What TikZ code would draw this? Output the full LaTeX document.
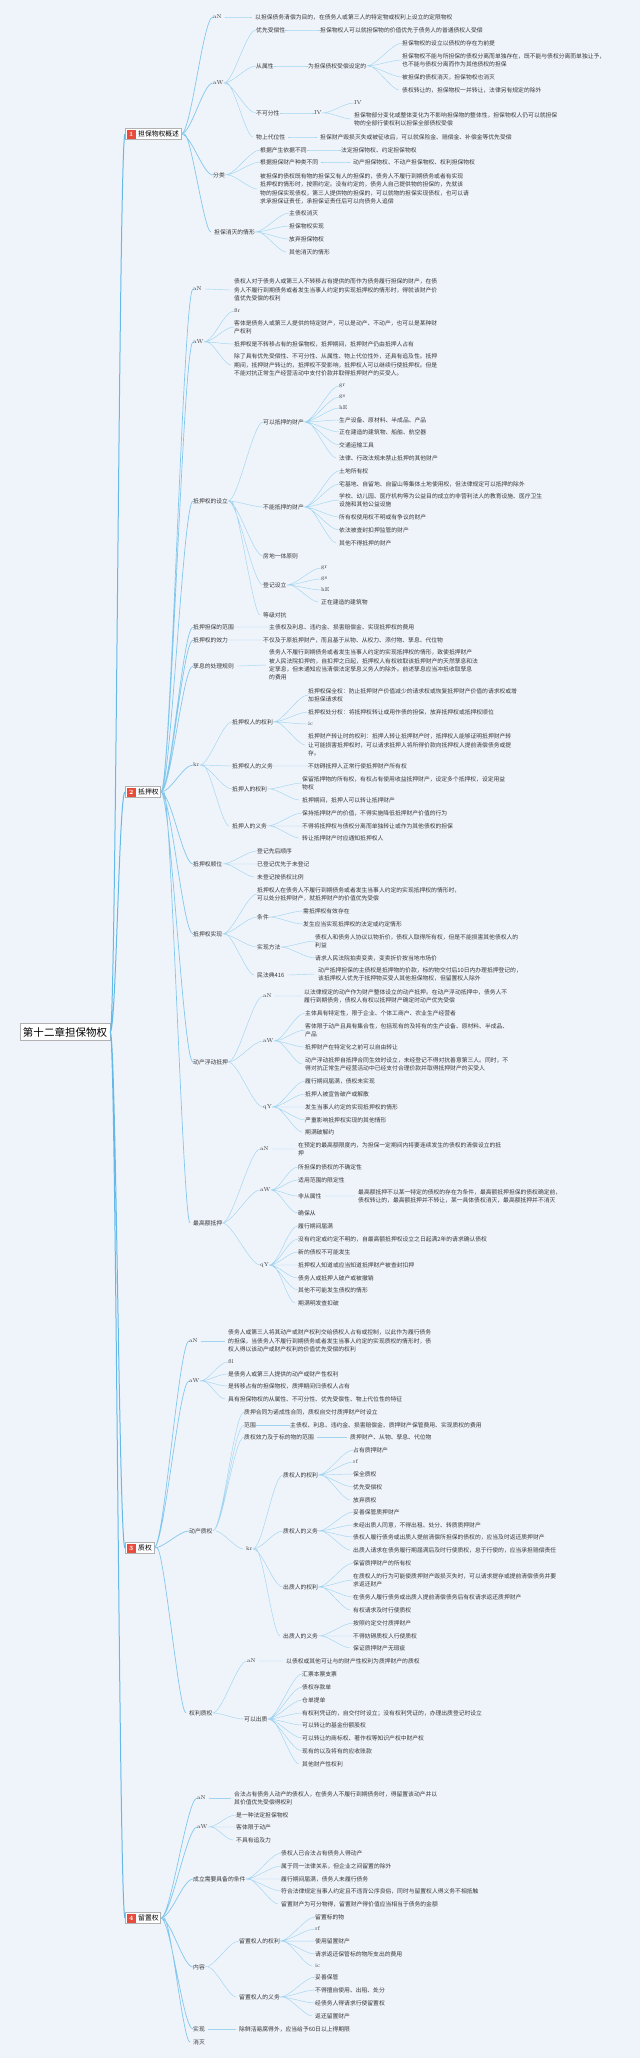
\documentclass[tikz,border=0pt]{standalone}
\usepackage{fontspec}
\newfontfamily\cjk{Noto Sans CJK SC}
\usetikzlibrary{positioning}

\definecolor{bgblue}{RGB}{239,244,251}
\definecolor{linkblue}{RGB}{160,212,240}
\definecolor{trunkblue}{RGB}{100,185,232}
\definecolor{badgered}{RGB}{232,76,61}
\definecolor{txtgray}{RGB}{55,55,55}

\begin{document}
\begin{tikzpicture}[
    x=1pt, y=-1pt,
    leaf/.style={anchor=west, inner sep=0pt, align=left, text=txtgray, font=\cjk\fontsize{5.8}{8.3}\selectfont},
    tok/.style={anchor=west, inner sep=0pt, text=txtgray, font=\fontsize{5.6}{6}\selectfont},
    secbox/.style={anchor=west, draw=gray!60, fill=white, inner xsep=2pt, inner ysep=2.5pt, text=black, font=\cjk\fontsize{6.8}{8}\selectfont},
    badge/.style={anchor=west, fill=badgered, text=white, inner sep=0pt, minimum size=9pt, font=\fontsize{6.5}{7}\selectfont\bfseries},
    rootbox/.style={draw=gray!60, fill=white, inner xsep=3pt, inner ysep=3.5pt, text=black, font=\cjk\fontsize{10.5}{12}\selectfont},
    link/.style={draw=linkblue, line width=0.45pt, out=0, in=180, distance=10pt, shorten <=3pt, shorten >=3pt},
    branch/.style={link, draw=trunkblue!80, line width=0.7pt},
    trunk/.style={draw=trunkblue, line width=1pt, out=0, in=180, distance=6pt},
]

% ====== Canvas ======
\fill[bgblue] (0,0) rectangle (640,2058);
\useasboundingbox (0,0) rectangle (640,2058);

% ====== Root and chapters ======
\node[rootbox] (root) at (65,1032) {第十二章担保物权};
\node[secbox] (s1) at (125,134) {\hspace*{11pt}担保物权概述};
\node[badge, right=1.5pt of s1.west] (s1b) {1};
\node[secbox] (s2) at (125,792) {\hspace*{11pt}抵押权};
\node[badge, right=1.5pt of s2.west] (s2b) {2};
\node[secbox] (s3) at (125,1548) {\hspace*{11pt}质权};
\node[badge, right=1.5pt of s3.west] (s3b) {3};
\node[secbox] (s4) at (125,1918) {\hspace*{11pt}留置权};
\node[badge, right=1.5pt of s4.west] (s4b) {4};

\draw[trunk] (root) to (s1) (root) to (s2) (root) to (s3) (root) to (s4);

% ====== 1 担保物权概述 ======
\node[tok] (s1n) at (213,17) {aN};
\node[leaf] (s1nt) at (255,17) {以担保债务清偿为目的，在债务人或第三人的特定物或权利上设立的定限物权};
\node[tok] (s1w) at (213,83) {aW};
\node[leaf] (s1w1) at (256,30) {优先受偿性};
\node[leaf] (s1w1a) at (320,30) {担保物权人可以就担保物的价值优先于债务人的普通债权人受偿};
\node[leaf] (s1w2) at (256,66) {从属性};
\node[leaf] (s1w2a) at (308,66) {为担保债权受偿设定的};
\node[leaf] (s1w2a1) at (402,43) {担保物权的设立以债权的存在为前提};
\node[leaf] (s1w2a2) at (402,60) {担保物权不能与所担保的债权分离而单独存在，既不能与债权分离而单独让予，\\也不能与债权分离而作为其他债权的担保};
\node[leaf] (s1w2a3) at (402,77) {被担保的债权消灭，担保物权也消灭};
\node[leaf] (s1w2a4) at (402,90) {债权转让的，担保物权一并转让，法律另有规定的除外};
\node[leaf] (s1w3) at (256,113) {不可分性};
\node[tok] (s1w3a) at (314,113) {IV};
\node[tok] (s1w3a1) at (354,103) {IV};
\node[leaf] (s1w3a2) at (354,119) {担保物部分变化或整体变化为不影响担保物的整体性，担保物权人仍可以就担保\\物的全部行使权利以担保全部债权受偿};
\node[leaf] (s1w4) at (256,137) {物上代位性};
\node[leaf] (s1w4a) at (320,137) {担保财产毁损灭失或被征收后，可以就保险金、赔偿金、补偿金等优先受偿};
\node[leaf] (s1c) at (213,175) {分类};
\node[leaf] (s1c1) at (260,150) {根据产生依据不同};
\node[leaf] (s1c1a) at (341,150) {法定担保物权、约定担保物权};
\node[leaf] (s1c2) at (260,162) {根据担保财产种类不同};
\node[leaf] (s1c2a) at (353,162) {动产担保物权、不动产担保物权、权利担保物权};
\node[leaf] (s1c3) at (260,189) {被担保的债权既有物的担保又有人的担保的，债务人不履行到期债务或者有实现\\抵押权的情形时，按照约定。没有约定的，债务人自己提供物的担保的，先就该\\物的担保实现债权，第三人提供物的担保的，可以就物的担保实现债权，也可以请\\求承担保证责任，承担保证责任后可以向债务人追偿};
\node[leaf] (s1x) at (214,232) {担保消灭的情形};
\node[leaf] (s1x1) at (289,213) {主债权消灭};
\node[leaf] (s1x2) at (289,226) {担保物权实现};
\node[leaf] (s1x3) at (289,239) {放弃担保物权};
\node[leaf] (s1x4) at (289,252) {其他消灭的情形};

\draw[branch] (s1) to (s1n) (s1) to (s1w) (s1) to (s1c) (s1) to (s1x);
\draw[link] (s1n) to (s1nt);
\draw[link] (s1w) to (s1w1) (s1w) to (s1w2) (s1w) to (s1w3) (s1w) to (s1w4);
\draw[link] (s1w1) to (s1w1a) (s1w2) to (s1w2a) (s1w3) to (s1w3a) (s1w4) to (s1w4a);
\draw[link] (s1w2a) to (s1w2a1) (s1w2a) to (s1w2a2) (s1w2a) to (s1w2a3) (s1w2a) to (s1w2a4);
\draw[link] (s1w3a) to (s1w3a1) (s1w3a) to (s1w3a2);
\draw[link] (s1c) to (s1c1) (s1c) to (s1c2) (s1c) to (s1c3);
\draw[link] (s1c1) to (s1c1a) (s1c2) to (s1c2a);
\draw[link] (s1x) to (s1x1) (s1x) to (s1x2) (s1x) to (s1x3) (s1x) to (s1x4);

% ====== 2 抵押权 ======
\node[tok] (s2n) at (193,289) {aN};
\node[leaf] (s2nt) at (234,290) {债权人对于债务人或第三人不转移占有提供的而作为债务履行担保的财产，在债\\务人不履行到期债务或者发生当事人约定的实现抵押权的情形时，得就该财产价\\值优先受偿的权利};
\node[tok] (s2w) at (193,342) {aW};
\node[tok] (s2w1) at (234,311) {ßr};
\node[leaf] (s2w2) at (234,327) {客体是债务人或第三人提供的特定财产，可以是动产、不动产，也可以是某种财\\产权利};
\node[leaf] (s2w3) at (234,344) {抵押权是不转移占有的担保物权，抵押期间，抵押财产仍由抵押人占有};
\node[leaf] (s2w4) at (234,365) {除了具有优先受偿性、不可分性、从属性、物上代位性外，还具有追及性。抵押\\期间，抵押财产转让的，抵押权不受影响，抵押权人可以继续行使抵押权。但是\\不能对抗正常生产经营活动中支付价款并取得抵押财产的买受人。};

\node[leaf] (s2e) at (193,501) {抵押权的设立};
\node[leaf] (s2e1) at (263,422) {可以抵押的财产};
\node[tok] (s2e1a) at (339,386) {gr};
\node[tok] (s2e1b) at (339,397) {gs};
\node[tok] (s2e1c) at (339,408) {hE};
\node[leaf] (s2e1d) at (339,420) {生产设备、原材料、半成品、产品};
\node[leaf] (s2e1e) at (339,432) {正在建造的建筑物、船舶、航空器};
\node[leaf] (s2e1f) at (339,445) {交通运输工具};
\node[leaf] (s2e1g) at (339,458) {法律、行政法规未禁止抵押的其他财产};
\node[leaf] (s2e2) at (263,507) {不能抵押的财产};
\node[leaf] (s2e2a) at (339,471) {土地所有权};
\node[leaf] (s2e2b) at (339,484) {宅基地、自留地、自留山等集体土地使用权，但法律规定可以抵押的除外};
\node[leaf] (s2e2c) at (339,500) {学校、幼儿园、医疗机构等为公益目的成立的非营利法人的教育设施、医疗卫生\\设施和其他公益设施};
\node[leaf] (s2e2d) at (339,517) {所有权使用权不明或有争议的财产};
\node[leaf] (s2e2e) at (339,530) {依法被查封扣押监管的财产};
\node[leaf] (s2e2f) at (339,543) {其他不得抵押的财产};
\node[leaf] (s2e3) at (263,556) {房地一体原则};
\node[leaf] (s2e4) at (263,585) {登记设立};
\node[tok] (s2e4a) at (321,568) {gr};
\node[tok] (s2e4b) at (321,579) {gs};
\node[tok] (s2e4c) at (321,590) {hE};
\node[leaf] (s2e4d) at (321,602) {正在建造的建筑物};
\node[leaf] (s2e5) at (263,615) {等级对抗};

\node[leaf] (s2r) at (193,627) {抵押担保的范围};
\node[leaf] (s2rt) at (269,627) {主债权及利息、违约金、损害赔偿金、实现抵押权的费用};
\node[leaf] (s2f) at (193,640) {抵押权的效力};
\node[leaf] (s2ft) at (263,640) {不仅及于原抵押财产，而且基于从物、从权力、添付物、孳息、代位物};
\node[leaf] (s2z) at (193,666) {孳息的处理规则};
\node[leaf] (s2zt) at (269,665) {债务人不履行到期债务或者发生当事人约定的实现抵押权的情形，致使抵押财产\\被人民法院扣押的，自扣押之日起，抵押权人有权收取该抵押财产的天然孳息和法\\定孳息，但未通知应当清偿法定孳息义务人的除外。前述孳息应当冲抵收取孳息\\的费用};

\node[tok] (s2k) at (193,765) {kr};
\node[leaf] (s2k1) at (232,722) {抵押权人的权利};
\node[leaf] (s2k1a) at (308,695) {抵押权保全权：防止抵押财产价值减少的请求权或恢复抵押财产价值的请求权或增\\加担保请求权};
\node[leaf] (s2k1b) at (308,712) {抵押权处分权：将抵押权转让或用作债的担保，放弃抵押权或抵押权顺位};
\node[tok] (s2k1c) at (308,724) {ic};
\node[leaf] (s2k1d) at (308,745) {抵押财产转让时的权利：抵押人转让抵押财产时，抵押权人能够证明抵押财产转\\让可能损害抵押权时，可以请求抵押人将所得价款向抵押权人提前清偿债务或提\\存。};
\node[leaf] (s2k2) at (232,766) {抵押权人的义务};
\node[leaf] (s2k2a) at (308,766) {不妨碍抵押人正常行使抵押财产所有权};
\node[leaf] (s2k3) at (232,789) {抵押人的权利};
\node[leaf] (s2k3a) at (302,783) {保留抵押物的所有权，有权占有使用收益抵押财产，设定多个抵押权，设定用益\\物权};
\node[leaf] (s2k3b) at (302,800) {抵押期间，抵押人可以转让抵押财产};
\node[leaf] (s2k4) at (232,826) {抵押人的义务};
\node[leaf] (s2k4a) at (302,813) {保持抵押财产的价值，不得实施降低抵押财产价值的行为};
\node[leaf] (s2k4b) at (302,826) {不得将抵押权与债权分离而单独转让或作为其他债权的担保};
\node[leaf] (s2k4c) at (302,838) {转让抵押财产时应通知抵押权人};

\node[leaf] (s2o) at (193,864) {抵押权顺位};
\node[leaf] (s2oa) at (257,851) {登记先后顺序};
\node[leaf] (s2ob) at (257,864) {已登记优先于未登记};
\node[leaf] (s2oc) at (257,877) {未登记按债权比例};

\node[leaf] (s2s) at (193,934) {抵押权实现};
\node[leaf] (s2s1) at (257,894) {抵押权人在债务人不履行到期债务或者发生当事人约定的实现抵押权的情形时，\\可以处分抵押财产，就抵押财产的价值优先受偿};
\node[leaf] (s2s2) at (257,917) {条件};
\node[leaf] (s2s2a) at (303,911) {需抵押权有效存在};
\node[leaf] (s2s2b) at (303,924) {发生应当实现抵押权的法定或约定情形};
\node[leaf] (s2s3) at (257,947) {实现方法};
\node[leaf] (s2s3a) at (315,941) {债权人和债务人协议以物折价，债权人取得所有权，但是不能损害其他债权人的\\利益};
\node[leaf] (s2s3b) at (315,958) {请求人民法院拍卖变卖，变卖折价按当地市场价};
\node[leaf] (s2s4) at (257,975) {民法典416};
\node[leaf] (s2s4a) at (318,974) {动产抵押担保的主债权是抵押物的价款，标的物交付后10日内办理抵押登记的，\\该抵押权人优先于抵押物买受人其他担保物权，但留置权人除外};

\node[leaf] (s2d) at (193,1062) {动产浮动抵押};
\node[tok] (s2dn) at (263,996) {aN};
\node[leaf] (s2dnt) at (304,996) {以法律规定的动产作为财产整体设立的动产抵押。在动产浮动抵押中，债务人不\\履行到期债务，债权人有权以抵押财产确定时动产优先受偿};
\node[tok] (s2dw) at (263,1041) {aW};
\node[leaf] (s2dwa) at (305,1013) {主体具有特定性，限于企业、个体工商户、农业生产经营者};
\node[leaf] (s2dwb) at (305,1030) {客体限于动产且具有集合性，包括现有的及将有的生产设备、原材料、半成品、\\产品};
\node[leaf] (s2dwc) at (305,1047) {抵押财产在特定化之前可以自由转让};
\node[leaf] (s2dwd) at (305,1064) {动产浮动抵押自抵押合同生效时设立，未经登记不得对抗善意第三人。同时，不\\得对抗正常生产经营活动中已经支付合理价款并取得抵押财产的买受人};
\node[tok] (s2dq) at (263,1107) {qY};
\node[leaf] (s2dqa) at (305,1081) {履行期间届满，债权未实现};
\node[leaf] (s2dqb) at (305,1094) {抵押人被宣告破产或解散};
\node[leaf] (s2dqc) at (305,1107) {发生当事人约定的实现抵押权的情形};
\node[leaf] (s2dqd) at (305,1120) {严重影响抵押权实现的其他情形};
\node[leaf] (s2dqe) at (305,1132) {期满破解约};

\node[leaf] (s2m) at (193,1223) {最高额抵押};
\node[tok] (s2mn) at (260,1149) {aN};
\node[leaf] (s2mnt) at (298,1149) {在预定的最高额限度内，为担保一定期间内将要连续发生的债权的清偿设立的抵\\押};
\node[tok] (s2mw) at (260,1190) {aW};
\node[leaf] (s2mwa) at (298,1167) {所担保的债权的不确定性};
\node[leaf] (s2mwb) at (298,1180) {适用范围的限定性};
\node[leaf] (s2mwc) at (298,1196) {非从属性};
\node[leaf] (s2mwc1) at (358,1196) {最高额抵押不以某一特定的债权的存在为条件，最高额抵押担保的债权确定前，\\债权转让的，最高额抵押并不转让，某一具体债权消灭，最高额抵押并不消灭};
\node[leaf] (s2mwd) at (298,1213) {确保从};
\node[tok] (s2mq) at (260,1265) {qY};
\node[leaf] (s2mqa) at (298,1226) {履行期间届满};
\node[leaf] (s2mqb) at (298,1239) {没有约定或约定不明的，自最高额抵押权设立之日起满2年的请求确认债权};
\node[leaf] (s2mqc) at (298,1252) {新的债权不可能发生};
\node[leaf] (s2mqd) at (298,1265) {抵押权人知道或应当知道抵押财产被查封扣押};
\node[leaf] (s2mqe) at (298,1278) {债务人或抵押人破产或被撤销};
\node[leaf] (s2mqf) at (298,1290) {其他不可能发生债权的情形};
\node[leaf] (s2mqg) at (298,1303) {期满明发查扣破};

\draw[branch] (s2) to (s2n) (s2) to (s2w) (s2) to (s2e) (s2) to (s2r) (s2) to (s2f) (s2) to (s2z)
  (s2) to (s2k) (s2) to (s2o) (s2) to (s2s) (s2) to (s2d) (s2) to (s2m);
\draw[link] (s2n) to (s2nt);
\draw[link] (s2w) to (s2w1) (s2w) to (s2w2) (s2w) to (s2w3) (s2w) to (s2w4);
\draw[link] (s2e) to (s2e1) (s2e) to (s2e2) (s2e) to (s2e3) (s2e) to (s2e4) (s2e) to (s2e5);
\draw[link] (s2e1) to (s2e1a) (s2e1) to (s2e1b) (s2e1) to (s2e1c) (s2e1) to (s2e1d)
  (s2e1) to (s2e1e) (s2e1) to (s2e1f) (s2e1) to (s2e1g);
\draw[link] (s2e2) to (s2e2a) (s2e2) to (s2e2b) (s2e2) to (s2e2c) (s2e2) to (s2e2d)
  (s2e2) to (s2e2e) (s2e2) to (s2e2f);
\draw[link] (s2e4) to (s2e4a) (s2e4) to (s2e4b) (s2e4) to (s2e4c) (s2e4) to (s2e4d);
\draw[link] (s2r) to (s2rt) (s2f) to (s2ft) (s2z) to (s2zt);
\draw[link] (s2k) to (s2k1) (s2k) to (s2k2) (s2k) to (s2k3) (s2k) to (s2k4);
\draw[link] (s2k1) to (s2k1a) (s2k1) to (s2k1b) (s2k1) to (s2k1c) (s2k1) to (s2k1d);
\draw[link] (s2k2) to (s2k2a) (s2k3) to (s2k3a) (s2k3) to (s2k3b);
\draw[link] (s2k4) to (s2k4a) (s2k4) to (s2k4b) (s2k4) to (s2k4c);
\draw[link] (s2o) to (s2oa) (s2o) to (s2ob) (s2o) to (s2oc);
\draw[link] (s2s) to (s2s1) (s2s) to (s2s2) (s2s) to (s2s3) (s2s) to (s2s4);
\draw[link] (s2s2) to (s2s2a) (s2s2) to (s2s2b) (s2s3) to (s2s3a) (s2s3) to (s2s3b) (s2s4) to (s2s4a);
\draw[link] (s2d) to (s2dn) (s2d) to (s2dw) (s2d) to (s2dq) (s2dn) to (s2dnt);
\draw[link] (s2dw) to (s2dwa) (s2dw) to (s2dwb) (s2dw) to (s2dwc) (s2dw) to (s2dwd);
\draw[link] (s2dq) to (s2dqa) (s2dq) to (s2dqb) (s2dq) to (s2dqc) (s2dq) to (s2dqd) (s2dq) to (s2dqe);
\draw[link] (s2m) to (s2mn) (s2m) to (s2mw) (s2m) to (s2mq) (s2mn) to (s2mnt);
\draw[link] (s2mw) to (s2mwa) (s2mw) to (s2mwb) (s2mw) to (s2mwc) (s2mw) to (s2mwd) (s2mwc) to (s2mwc1);
\draw[link] (s2mq) to (s2mqa) (s2mq) to (s2mqb) (s2mq) to (s2mqc) (s2mq) to (s2mqd)
  (s2mq) to (s2mqe) (s2mq) to (s2mqf) (s2mq) to (s2mqg);

% ====== 3 质权 ======
\node[tok] (s3n) at (189,1341) {aN};
\node[leaf] (s3nt) at (228,1341) {债务人或第三人将其动产或财产权利交给债权人占有或控制，以此作为履行债务\\的担保，当债务人不履行到期债务或者发生当事人约定的实现质权的情形时，债\\权人得以该动产或财产权利的价值优先受偿的权利};
\node[tok] (s3w) at (189,1381) {aW};
\node[tok] (s3wa) at (228,1362) {ßl};
\node[leaf] (s3wb) at (228,1374) {是债务人或第三人提供的动产或财产性权利};
\node[leaf] (s3wc) at (228,1386) {是转移占有的担保物权，质押期间归债权人占有};
\node[leaf] (s3wd) at (228,1399) {具有担保物权的从属性、不可分性、优先受偿性、物上代位性的特征};

\node[leaf] (s3d) at (189,1531) {动产质权};
\node[leaf] (s3d1) at (244,1412) {质押合同为诺成性合同，质权自交付质押财产时设立};
\node[leaf] (s3d2) at (244,1425) {范围};
\node[leaf] (s3d2a) at (290,1425) {主债权、利息、违约金、损害赔偿金、质押财产保管费用、实现质权的费用};
\node[leaf] (s3d3) at (244,1437) {质权效力及于标的物的范围};
\node[leaf] (s3d3a) at (350,1437) {质押财产、从物、孳息、代位物};
\node[tok] (s3k) at (246,1549) {kr};
\node[leaf] (s3k1) at (283,1475) {质权人的权利};
\node[leaf] (s3k1a) at (353,1450) {占有质押财产};
\node[tok] (s3k1b) at (353,1462) {rf};
\node[leaf] (s3k1c) at (353,1474) {保全质权};
\node[leaf] (s3k1d) at (353,1487) {优先受偿权};
\node[leaf] (s3k1e) at (353,1500) {放弃质权};
\node[leaf] (s3k2) at (283,1531) {质权人的义务};
\node[leaf] (s3k2a) at (353,1512) {妥善保管质押财产};
\node[leaf] (s3k2b) at (353,1525) {未经出质人同意，不得出租、处分、转质质押财产};
\node[leaf] (s3k2c) at (353,1537) {债权人履行债务或出质人提前清偿所担保的债权的，应当及时返还质押财产};
\node[leaf] (s3k2d) at (353,1550) {出质人请求在债务履行期届满后及时行使质权，怠于行使的，应当承担赔偿责任};
\node[leaf] (s3k3) at (283,1587) {出质人的权利};
\node[leaf] (s3k3a) at (353,1563) {保留质押财产的所有权};
\node[leaf] (s3k3b) at (353,1580) {在质权人的行为可能使质押财产毁损灭失时，可以请求提存或提前清偿债务并要\\求返还财产};
\node[leaf] (s3k3c) at (353,1597) {在债务人履行债务或出质人提前清偿债务后有权请求返还质押财产};
\node[leaf] (s3k3d) at (353,1610) {有权请求及时行使质权};
\node[leaf] (s3k4) at (283,1636) {出质人的义务};
\node[leaf] (s3k4a) at (353,1623) {按照约定交付质押财产};
\node[leaf] (s3k4b) at (353,1636) {不得妨碍质权人行使质权};
\node[leaf] (s3k4c) at (353,1648) {保证质押财产无瑕疵};

\node[leaf] (s3r) at (189,1713) {权利质权};
\node[tok] (s3rn) at (247,1661) {aN};
\node[leaf] (s3rnt) at (286,1661) {以债权或其他可让与的财产性权利为质押财产的质权};
\node[leaf] (s3rq) at (244,1719) {可以出质};
\node[leaf] (s3rqa) at (302,1674) {汇票本票支票};
\node[leaf] (s3rqb) at (302,1687) {债权存款单};
\node[leaf] (s3rqc) at (302,1700) {仓单提单};
\node[leaf] (s3rqd) at (302,1713) {有权利凭证的，自交付时设立；没有权利凭证的，办理出质登记时设立};
\node[leaf] (s3rqe) at (302,1725) {可以转让的基金份额股权};
\node[leaf] (s3rqf) at (302,1738) {可以转让的商标权、著作权等知识产权中财产权};
\node[leaf] (s3rqg) at (302,1751) {现有的以及将有的应收账款};
\node[leaf] (s3rqh) at (302,1764) {其他财产性权利};

\draw[branch] (s3) to (s3n) (s3) to (s3w) (s3) to (s3d) (s3) to (s3r);
\draw[link] (s3n) to (s3nt);
\draw[link] (s3w) to (s3wa) (s3w) to (s3wb) (s3w) to (s3wc) (s3w) to (s3wd);
\draw[link] (s3d) to (s3d1) (s3d) to (s3d2) (s3d) to (s3d3) (s3d) to (s3k);
\draw[link] (s3d2) to (s3d2a) (s3d3) to (s3d3a);
\draw[link] (s3k) to (s3k1) (s3k) to (s3k2) (s3k) to (s3k3) (s3k) to (s3k4);
\draw[link] (s3k1) to (s3k1a) (s3k1) to (s3k1b) (s3k1) to (s3k1c) (s3k1) to (s3k1d) (s3k1) to (s3k1e);
\draw[link] (s3k2) to (s3k2a) (s3k2) to (s3k2b) (s3k2) to (s3k2c) (s3k2) to (s3k2d);
\draw[link] (s3k3) to (s3k3a) (s3k3) to (s3k3b) (s3k3) to (s3k3c) (s3k3) to (s3k3d);
\draw[link] (s3k4) to (s3k4a) (s3k4) to (s3k4b) (s3k4) to (s3k4c);
\draw[link] (s3r) to (s3rn) (s3r) to (s3rq) (s3rn) to (s3rnt);
\draw[link] (s3rq) to (s3rqa) (s3rq) to (s3rqb) (s3rq) to (s3rqc) (s3rq) to (s3rqd)
  (s3rq) to (s3rqe) (s3rq) to (s3rqf) (s3rq) to (s3rqg) (s3rq) to (s3rqh);

% ====== 4 留置权 ======
\node[tok] (s4n) at (197,1798) {aN};
\node[leaf] (s4nt) at (234,1798) {合法占有债务人动产的债权人，在债务人不履行到期债务时，得留置该动产并以\\其价值优先受偿得权利};
\node[tok] (s4w) at (197,1827) {aW};
\node[leaf] (s4wa) at (236,1815) {是一种法定担保物权};
\node[leaf] (s4wb) at (236,1827) {客体限于动产};
\node[leaf] (s4wc) at (236,1840) {不具有追及力};
\node[leaf] (s4c) at (193,1879) {成立需要具备的条件};
\node[leaf] (s4ca) at (281,1853) {债权人已合法占有债务人得动产};
\node[leaf] (s4cb) at (281,1866) {属于同一法律关系，但企业之间留置的除外};
\node[leaf] (s4cc) at (281,1879) {履行期间届满，债务人未履行债务};
\node[leaf] (s4cd) at (281,1891) {符合法律规定当事人约定且不违背公序良俗，同时与留置权人得义务不相抵触};
\node[leaf] (s4ce) at (281,1904) {留置财产为可分物得，留置财产得价值应当相当于债务的金额};
\node[leaf] (s4k) at (193,1967) {内容};
\node[leaf] (s4k1) at (239,1941) {留置权人的权利};
\node[leaf] (s4k1a) at (315,1917) {留置标的物};
\node[tok] (s4k1b) at (315,1929) {rf};
\node[leaf] (s4k1c) at (315,1941) {使用留置财产};
\node[leaf] (s4k1d) at (315,1954) {请求返还保管标的物所支出的费用};
\node[tok] (s4k1e) at (315,1966) {ic};
\node[leaf] (s4k2) at (239,1997) {留置权人的义务};
\node[leaf] (s4k2a) at (315,1977) {妥善保管};
\node[leaf] (s4k2b) at (315,1990) {不得擅自使用、出租、处分};
\node[leaf] (s4k2c) at (315,2003) {经债务人得请求行使留置权};
\node[leaf] (s4k2d) at (315,2016) {返还留置财产};
\node[leaf] (s4s) at (193,2029) {实现};
\node[leaf] (s4st) at (239,2029) {除鲜活易腐得外，应当给予60日以上得期限};
\node[leaf] (s4x) at (193,2042) {消灭};

\draw[branch] (s4) to (s4n) (s4) to (s4w) (s4) to (s4c) (s4) to (s4k) (s4) to (s4s) (s4) to (s4x);
\draw[link] (s4n) to (s4nt);
\draw[link] (s4w) to (s4wa) (s4w) to (s4wb) (s4w) to (s4wc);
\draw[link] (s4c) to (s4ca) (s4c) to (s4cb) (s4c) to (s4cc) (s4c) to (s4cd) (s4c) to (s4ce);
\draw[link] (s4k) to (s4k1) (s4k) to (s4k2);
\draw[link] (s4k1) to (s4k1a) (s4k1) to (s4k1b) (s4k1) to (s4k1c) (s4k1) to (s4k1d) (s4k1) to (s4k1e);
\draw[link] (s4k2) to (s4k2a) (s4k2) to (s4k2b) (s4k2) to (s4k2c) (s4k2) to (s4k2d);
\draw[link] (s4s) to (s4st);

\end{tikzpicture}
\end{document}
